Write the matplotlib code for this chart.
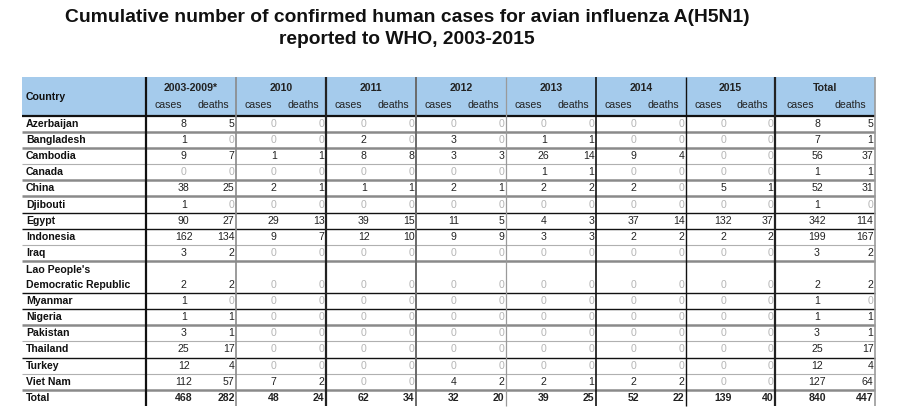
import matplotlib
matplotlib.use("Agg")
import matplotlib.pyplot as plt
from matplotlib.patches import Rectangle

plt.rcParams['font.family'] = ['Liberation Sans', 'DejaVu Sans']

title = "Cumulative number of confirmed human cases for avian influenza A(H5N1)\nreported to WHO, 2003-2015"
periods = ["2003-2009*", "2010", "2011", "2012", "2013", "2014", "2015", "Total"]
countries = ["Azerbaijan", "Bangladesh", "Cambodia", "Canada", "China", "Djibouti",
             "Egypt", "Indonesia", "Iraq", "Lao People's\nDemocratic Republic", "Myanmar",
             "Nigeria", "Pakistan", "Thailand", "Turkey", "Viet Nam", "Total"]
# cases/deaths per period, one row per country
c0309 = [8, 1, 9, 0, 38, 1, 90, 162, 3, 2, 1, 1, 3, 25, 12, 112, 468]
d0309 = [5, 0, 7, 0, 25, 0, 27, 134, 2, 2, 0, 1, 1, 17, 4, 57, 282]
c2010 = [0, 0, 1, 0, 2, 0, 29, 9, 0, 0, 0, 0, 0, 0, 0, 7, 48]
d2010 = [0, 0, 1, 0, 1, 0, 13, 7, 0, 0, 0, 0, 0, 0, 0, 2, 24]
c2011 = [0, 2, 8, 0, 1, 0, 39, 12, 0, 0, 0, 0, 0, 0, 0, 0, 62]
d2011 = [0, 0, 8, 0, 1, 0, 15, 10, 0, 0, 0, 0, 0, 0, 0, 0, 34]
c2012 = [0, 3, 3, 0, 2, 0, 11, 9, 0, 0, 0, 0, 0, 0, 0, 4, 32]
d2012 = [0, 0, 3, 0, 1, 0, 5, 9, 0, 0, 0, 0, 0, 0, 0, 2, 20]
c2013 = [0, 1, 26, 1, 2, 0, 4, 3, 0, 0, 0, 0, 0, 0, 0, 2, 39]
d2013 = [0, 1, 14, 1, 2, 0, 3, 3, 0, 0, 0, 0, 0, 0, 0, 1, 25]
c2014 = [0, 0, 9, 0, 2, 0, 37, 2, 0, 0, 0, 0, 0, 0, 0, 2, 52]
d2014 = [0, 0, 4, 0, 0, 0, 14, 2, 0, 0, 0, 0, 0, 0, 0, 2, 22]
c2015 = [0, 0, 0, 0, 5, 0, 132, 2, 0, 0, 0, 0, 0, 0, 0, 0, 139]
d2015 = [0, 0, 0, 0, 1, 0, 37, 2, 0, 0, 0, 0, 0, 0, 0, 0, 40]
ctot = [8, 7, 56, 1, 52, 1, 342, 199, 3, 2, 1, 1, 3, 25, 12, 127, 840]
dtot = [5, 1, 37, 1, 31, 0, 114, 167, 2, 2, 0, 1, 1, 17, 4, 64, 447]

cases = [c0309, c2010, c2011, c2012, c2013, c2014, c2015, ctot]
deaths = [d0309, d2010, d2011, d2012, d2013, d2014, d2015, dtot]

# ---- layout (pixel space) ----
fig = plt.figure(figsize=(9, 4.2), dpi=100)
ax = fig.add_axes([0, 0, 1, 1])
ax.set_xlim(0, 900)
ax.set_ylim(420, 0)
ax.axis('off')

x_left = 22
group_edges = [146, 236, 326, 416, 506, 596, 686, 775, 875]
head_top, head_bot = 77, 116
row_h = 16.1
row_units = [2 if "\n" in c else 1 for c in countries]
bounds = [head_bot]
for u in row_units:
    bounds.append(bounds[-1] + u * row_h)
bottom = bounds[-1]

ax.text(407, 18, title.split("\n")[0], ha='center', va='center', fontsize=13.9,
        fontweight='bold', color='#111111')
ax.text(407, 40, title.split("\n")[1], ha='center', va='center', fontsize=13.9,
        fontweight='bold', color='#111111')

# header background
ax.add_patch(Rectangle((x_left, head_top), group_edges[-1] - x_left, head_bot - head_top,
                       facecolor='#a5cbec', edgecolor='none', zorder=0))

fs = 7.6
ax.text(x_left + 4, (head_top + head_bot) / 2, "Country", ha='left', va='center',
        fontsize=fs, fontweight='bold', color='#111111')
for i, p in enumerate(periods):
    g0, g1 = group_edges[i], group_edges[i + 1]
    w = g1 - g0
    ax.text((g0 + g1) / 2, 88, p, ha='center', va='center', fontsize=fs,
            fontweight='bold', color='#222222')
    ax.text(g0 + w * 0.25, 105, "cases", ha='center', va='center', fontsize=fs, color='#222222')
    ax.text(g0 + w * 0.75, 105, "deaths", ha='center', va='center', fontsize=fs, color='#222222')

# body
for r, name in enumerate(countries):
    y0, y1 = bounds[r], bounds[r + 1]
    is_total = name == "Total"
    if "\n" in name:
        lines = name.split("\n")
        ax.text(x_left + 4, y0 + (y1 - y0) * 0.28, lines[0], ha='left', va='center',
                fontsize=fs, fontweight='bold', color='#111111')
        ax.text(x_left + 4, y0 + (y1 - y0) * 0.76, lines[1], ha='left', va='center',
                fontsize=fs, fontweight='bold', color='#111111')
        yv = y0 + (y1 - y0) * 0.76
    else:
        ax.text(x_left + 4, (y0 + y1) / 2, name, ha='left', va='center',
                fontsize=fs, fontweight='bold', color='#111111')
        yv = (y0 + y1) / 2
    for i in range(len(periods)):
        g0, g1 = group_edges[i], group_edges[i + 1]
        w = g1 - g0
        cv, dv = cases[i][r], deaths[i][r]
        for val, xx, ha in ((cv, g0 + w * 0.42, 'center'), (dv, g1 - 1.5, 'right')):
            col = '#b5b5b5' if val == 0 else '#222222'
            ax.text(xx, yv, str(val), ha=ha, va='center', fontsize=fs, color=col,
                    fontweight='bold' if is_total else 'normal')

# horizontal rules
hstyles = [('#111111', 1.6),
           ('#8a8a8a', 1.8), ('#8a8a8a', 1.8), ('#b0b0b0', 0.8), ('#8a8a8a', 1.8),
           ('#8a8a8a', 1.8), ('#111111', 1.0), ('#111111', 1.0), ('#b0b0b0', 0.8),
           ('#8a8a8a', 1.8), ('#111111', 1.0), ('#111111', 1.0), ('#8a8a8a', 1.8),
           ('#b0b0b0', 0.8), ('#111111', 1.0), ('#b0b0b0', 0.8), ('#8a8a8a', 1.8)]
for yb, (c, lw) in zip(bounds[:-1], hstyles):
    ax.plot([x_left, group_edges[-1]], [yb, yb], color=c, lw=lw, zorder=2,
            solid_capstyle='butt')

# vertical rules
vstyles = [('#111111', 1.6), ('#8a8a8a', 1.2), ('#222222', 1.6), ('#6a6a6a', 1.4),
           ('#9a9a9a', 0.9), ('#111111', 1.2), ('#111111', 1.0), ('#222222', 1.6),
           ('#9a9a9a', 1.2)]
for xe, (c, lw) in zip(group_edges, vstyles):
    ax.plot([xe, xe], [head_top, bottom], color=c, lw=lw, zorder=3,
            solid_capstyle='butt')

fig.savefig("out.png", dpi=100, facecolor='white')
